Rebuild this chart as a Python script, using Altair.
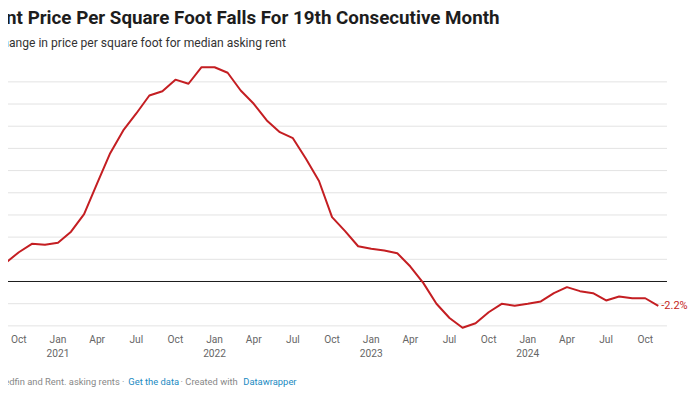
import altair as alt
import pandas as pd

# ---- data (month index: 0 = Jan 2021) ----
months = list(range(-5, 47))  # Aug 2020 .. Nov 2024
values = [
    0.92, 1.69, 2.64, 3.40, 3.31,                     # Aug-Dec 2020
    3.49, 4.49, 6.08, 8.84, 11.57, 13.62,             # Jan-Jun 2021
    15.15, 16.77, 17.16, 18.20, 17.83, 19.32,         # Jul-Dec 2021
    19.32, 18.82, 17.22, 16.02, 14.52, 13.46,         # Jan-Jun 2022
    12.92, 11.06, 9.06, 5.80, 4.54, 3.18,             # Jul-Dec 2022
    2.95, 2.80, 2.55, 1.35, -0.15, -2.01,             # Jan-Jun 2023
    -3.29, -4.17, -3.76, -2.77, -2.01, -2.19,         # Jul-Dec 2023
    -2.01, -1.80, -1.05, -0.51, -0.87, -1.05,         # Jan-Jun 2024
    -1.71, -1.35, -1.51, -1.51, -2.20,                # Jul-Nov 2024
]
tick_months = [-3, 0, 3, 6, 9, 12, 15, 18, 21, 24, 27, 30, 33, 36, 39, 42, 45]
tick_labels = ["Oct", "Jan\n2021", "Apr", "Jul", "Oct", "Jan\n2022", "Apr", "Jul",
               "Oct", "Jan\n2023", "Apr", "Jul", "Oct", "Jan\n2024", "Apr", "Jul", "Oct"]
grid_values = [-4, -2, 2, 4, 6, 8, 10, 12, 14, 16, 18]
zero_value = [0]
end_label = ["-2.2%"]

title = "Rent Price Per Square Foot Falls For 19th Consecutive Month"
subtitle = "Change in price per square foot for median asking rent"
footer_source = "Source: Redfin and Rent. asking rents ·"
footer_link1 = "Get the data"
footer_mid = "· Created with"
footer_link2 = "Datawrapper"

W, H = 659, 244
FONT = "Roboto"
RED = "#c41e22"
BLUE = "#1a8ac2"

x_scale = alt.Scale(domain=[-3.831, 46.667], nice=False, zero=False)
y_scale = alt.Scale(domain=[-4, 18], nice=False, zero=False)

df = pd.DataFrame({"m": months, "v": values})
df_ticks = pd.DataFrame({"m": tick_months, "t": tick_labels})
df_grid = pd.DataFrame({"g": grid_values})
df_zero = pd.DataFrame({"g": zero_value})
df_end = pd.DataFrame({"m": [months[-1]], "v": [values[-1]], "t": end_label})

grid = alt.Chart(df_grid).mark_rule(color="#e3e3e3", strokeWidth=1).encode(
    y=alt.Y("g:Q", scale=y_scale, axis=None),
    x=alt.value(-8), x2=alt.value(W),
)
zero = alt.Chart(df_zero).mark_rule(color="#1a1a1a", strokeWidth=1).encode(
    y=alt.Y("g:Q", scale=y_scale, axis=None),
    x=alt.value(-8), x2=alt.value(W),
)
line = alt.Chart(df).mark_line(color=RED, strokeWidth=2, strokeJoin="round").encode(
    x=alt.X("m:Q", scale=x_scale, axis=None),
    y=alt.Y("v:Q", scale=y_scale, axis=None),
)
end = alt.Chart(df_end).mark_text(
    font=FONT, fontSize=11, color=RED, align="left", baseline="middle", dx=3
).encode(
    x=alt.X("m:Q", scale=x_scale, axis=None),
    y=alt.Y("v:Q", scale=y_scale, axis=None),
    text="t:N",
)
ticks = alt.Chart(df_ticks).mark_text(
    font=FONT, fontSize=10.2, color="#666666", align="center", baseline="alphabetic",
    lineBreak="\n", lineHeight=14,
).encode(
    x=alt.X("m:Q", scale=x_scale, axis=None),
    y=alt.value(261.4),
    text="t:N",
)


def label(txt, x, y, size, color, weight="normal", align="left"):
    return alt.Chart(pd.DataFrame({"t": [txt]})).mark_text(
        font=FONT, fontSize=size, color=color, fontWeight=weight,
        align=align, baseline="alphabetic",
    ).encode(x=alt.value(x), y=alt.value(y), text="t:N")


t_title = label(title, -24.1, -57.6, 18.8, "#1d1d1d", weight="bold")
t_sub = label(subtitle, -13.5, -35.1, 12.1, "#333333")
f1 = label(footer_source, 116.5, 303.4, 9.4, "#888888", align="right")
f2 = label(footer_link1, 120.3, 303.4, 9.4, BLUE)
f3 = label(footer_mid, 172.5, 303.4, 9.4, "#888888")
f4 = label(footer_link2, 235.3, 303.4, 9.4, BLUE)

chart = alt.layer(
    grid, zero, line, end, ticks, t_title, t_sub, f1, f2, f3, f4
).properties(
    width=W, height=H,
    autosize=alt.AutoSizeParams(type="none"),
    padding={"left": 0, "right": 25, "top": 73.86, "bottom": 64},
).configure_view(stroke=None)

chart.save("out.html", embed_options={"renderer": "svg", "actions": False})
